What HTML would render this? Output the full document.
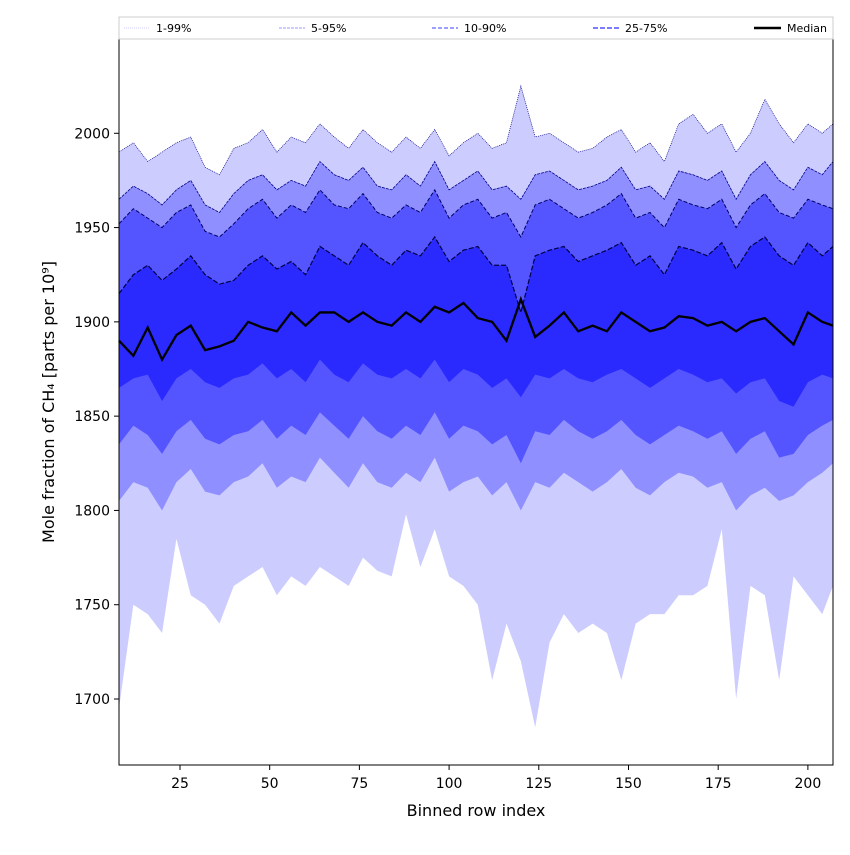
<!DOCTYPE html>
<html><head><meta charset="utf-8"><style>
body{margin:0;background:#fff}
svg text{font-family:"DejaVu Sans","Liberation Sans",sans-serif;fill:#000}
</style></head><body>
<svg id="chart" width="850" height="850" xmlns="http://www.w3.org/2000/svg">
<g id="bands"></g>
<g id="lines"></g>
<rect x="119" y="39" width="714" height="726" fill="none" stroke="#000" stroke-width="1"/>
<g id="xticks"></g>
<g id="yticks"></g>
<text x="476" y="816" font-size="16" text-anchor="middle">Binned row index</text>
<text transform="translate(54,402) rotate(-90)" font-size="16" text-anchor="middle">Mole fraction of CH₄ [parts per 10⁹]</text>
<g>
<rect x="119" y="17" width="714" height="22" fill="#fff" stroke="#ccc"/>
<g><line x1="124" y1="28" x2="150" y2="28" stroke="#ccccff" stroke-dasharray="1,1"/><text x="156" y="32" font-size="11">1-99%</text></g>
<g><line x1="279" y1="28" x2="305" y2="28" stroke="#9999ff" stroke-dasharray="3,1"/><text x="311" y="32" font-size="11">5-95%</text></g>
<g><line x1="432" y1="28" x2="458" y2="28" stroke="#6666ff" stroke-dasharray="4,2" stroke-width="1.3"/><text x="464" y="32" font-size="11">10-90%</text></g>
<g><line x1="593" y1="28" x2="619" y2="28" stroke="#6a6aff" stroke-dasharray="5,2" stroke-width="1.8"/><text x="625" y="32" font-size="11">25-75%</text></g>
<g><line x1="754" y1="28" x2="781" y2="28" stroke="#000" stroke-width="2.5"/><text x="787" y="32" font-size="11">Median</text></g>
</g>
</svg>
<script>
const xs=[8,12,16,20,24,28,32,36,40,44,48,52,56,60,64,68,72,76,80,84,88,92,96,100,104,108,112,116,120,124,128,132,136,140,144,148,152,156,160,164,168,172,176,180,184,188,192,196,200,204,207];
const p50=[1890,1882,1897,1880,1893,1898,1885,1887,1890,1900,1897,1895,1905,1898,1905,1905,1900,1905,1900,1898,1905,1900,1908,1905,1910,1902,1900,1890,1912,1892,1898,1905,1895,1898,1895,1905,1900,1895,1897,1903,1902,1898,1900,1895,1900,1902,1895,1888,1905,1900,1898];
const p75=[1915,1925,1930,1922,1928,1935,1925,1920,1922,1930,1935,1928,1932,1925,1940,1935,1930,1942,1935,1930,1938,1935,1945,1932,1938,1940,1930,1930,1905,1935,1938,1940,1932,1935,1938,1942,1930,1935,1925,1940,1938,1935,1942,1928,1940,1945,1935,1930,1942,1935,1940];
const p25=[1865,1870,1872,1858,1870,1875,1868,1865,1870,1872,1878,1870,1875,1868,1880,1872,1868,1878,1872,1870,1875,1870,1880,1868,1875,1872,1865,1870,1860,1872,1870,1875,1870,1868,1872,1875,1870,1865,1870,1875,1872,1868,1870,1862,1868,1870,1858,1855,1868,1872,1870];
const p90=[1952,1960,1955,1950,1958,1962,1948,1945,1952,1960,1965,1955,1962,1958,1970,1962,1960,1968,1958,1955,1962,1958,1970,1955,1962,1965,1955,1958,1945,1962,1965,1960,1955,1958,1962,1968,1955,1958,1950,1965,1962,1960,1965,1950,1962,1968,1958,1955,1965,1962,1960];
const p10=[1835,1845,1840,1830,1842,1848,1838,1835,1840,1842,1848,1838,1845,1840,1852,1845,1838,1850,1842,1838,1845,1840,1852,1838,1845,1842,1835,1840,1825,1842,1840,1848,1842,1838,1842,1848,1840,1835,1840,1845,1842,1838,1842,1830,1838,1842,1828,1830,1840,1845,1848];
const p95=[1965,1972,1968,1962,1970,1975,1962,1958,1968,1975,1978,1970,1975,1972,1985,1978,1975,1982,1972,1970,1978,1972,1985,1970,1975,1980,1970,1972,1965,1978,1980,1975,1970,1972,1975,1982,1970,1972,1965,1980,1978,1975,1980,1965,1978,1985,1975,1970,1982,1978,1985];
const p5=[1805,1815,1812,1800,1815,1822,1810,1808,1815,1818,1825,1812,1818,1815,1828,1820,1812,1825,1815,1812,1820,1815,1828,1810,1815,1818,1808,1815,1800,1815,1812,1820,1815,1810,1815,1822,1812,1808,1815,1820,1818,1812,1815,1800,1808,1812,1805,1808,1815,1820,1825];
const p99=[1990,1995,1985,1990,1995,1998,1982,1978,1992,1995,2002,1990,1998,1995,2005,1998,1992,2002,1995,1990,1998,1992,2002,1988,1995,2000,1992,1995,2025,1998,2000,1995,1990,1992,1998,2002,1990,1995,1985,2005,2010,2000,2005,1990,2000,2018,2005,1995,2005,2000,2005];
const p1=[1695,1750,1745,1735,1785,1755,1750,1740,1760,1765,1770,1755,1765,1760,1770,1765,1760,1775,1768,1765,1798,1770,1790,1765,1760,1750,1710,1740,1720,1685,1730,1745,1735,1740,1735,1710,1740,1745,1745,1755,1755,1760,1790,1700,1760,1755,1710,1765,1755,1745,1760];
const xTicks=[25,50,75,100,125,150,175,200];
const yTicks=[1700,1750,1800,1850,1900,1950,2000];

const NS='http://www.w3.org/2000/svg';
const X0=119,X1=833,Y0=39,Y1=765,XMIN=8,XMAX=207,YMIN=1665,YMAX=2050;
function sx(v){return X0+(v-XMIN)/(XMAX-XMIN)*(X1-X0);}
function sy(v){return Y1-(v-YMIN)/(YMAX-YMIN)*(Y1-Y0);}
function mk(t,a){const e=document.createElementNS(NS,t);for(const k in a)e.setAttribute(k,a[k]);return e;}
const bands=document.getElementById('bands'),lines=document.getElementById('lines');
function band(lo,hi,col,name){
  let pts=xs.map((x,i)=>sx(x)+','+sy(hi[i]));
  for(let i=xs.length-1;i>=0;i--)pts.push(sx(xs[i])+','+sy(lo[i]));
  const p=mk('polygon',{points:pts.join(' '),fill:col});
  
  
  bands.appendChild(p);
}
band(p1,p99,'#ccccff','band-1-99');
band(p5,p95,'#8f8fff','band-5-95');
band(p10,p90,'#5555ff','band-10-90');
band(p25,p75,'#2a2aff','band-25-75');
function line(arr,attrs,name){
  const d=xs.map((x,i)=>(i?'L':'M')+sx(x)+' '+sy(arr[i])).join(' ');
  const p=mk('path',Object.assign({d:d,fill:'none'},attrs));
  
  
  lines.appendChild(p);
}
line(p99,{stroke:'#00008b','stroke-width':0.7,'stroke-dasharray':'1,1'},'line-p99');
line(p95,{stroke:'#00008b','stroke-width':0.8,'stroke-dasharray':'3,1'},'line-p95');
line(p90,{stroke:'#000066','stroke-width':1,'stroke-dasharray':'4,2'},'line-p90');
line(p75,{stroke:'#000044','stroke-width':1.2,'stroke-dasharray':'5,2'},'line-p75');
line(p50,{stroke:'#000','stroke-width':2.3},'line-median');
const xg=document.getElementById('xticks');
xTicks.forEach(v=>{
  const l=mk('line',{x1:sx(v),x2:sx(v),y1:765,y2:770,stroke:'#000'});
  
  
  xg.appendChild(l);
  const t=mk('text',{x:sx(v),y:788,'font-size':14,'text-anchor':'middle'});
  
  
  t.textContent=v;xg.appendChild(t);
});
const yg=document.getElementById('yticks');
yTicks.forEach(v=>{
  const l=mk('line',{x1:114,x2:119,y1:sy(v),y2:sy(v),stroke:'#000'});
  
  
  yg.appendChild(l);
  const t=mk('text',{x:110,y:sy(v)+5,'font-size':14,'text-anchor':'end'});
  
  
  t.textContent=v;yg.appendChild(t);
});
</script>
</body></html>
